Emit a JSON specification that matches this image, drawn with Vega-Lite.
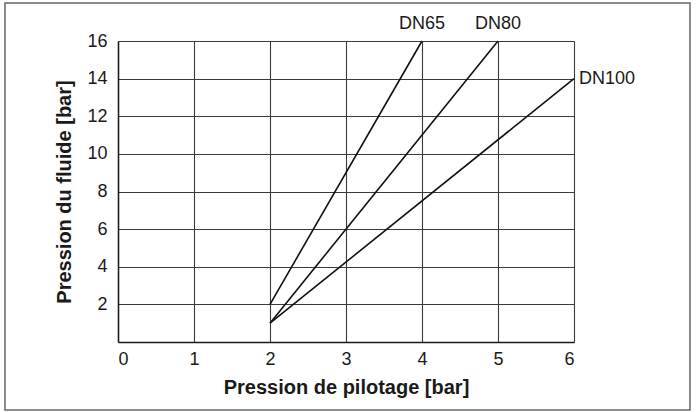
{
  "$schema": "https://vega.github.io/schema/vega-lite/v6.json",
  "width": 456,
  "height": 301,
  "autosize": {"type": "none"},
  "padding": {"left": 118, "top": 41, "right": 123, "bottom": 70},
  "background": "white",
  "config": {
    "font": "Liberation Sans",
    "view": {"stroke": null},
    "axis": {
      "labelFont": "Liberation Sans",
      "titleFont": "Liberation Sans",
      "labelFontSize": 18,
      "titleFontSize": 20,
      "titleFontWeight": "bold",
      "labelColor": "#1a1a1a",
      "titleColor": "#1a1a1a",
      "domainColor": "#1a1a1a",
      "domainWidth": 1.5,
      "gridColor": "#3a3a3a",
      "gridWidth": 1.1,
      "gridOpacity": 1,
      "ticks": false,
      "format": "d"
    }
  },
  "datasets": {
    "lines": [
      {"series": "DN65", "x": 2, "y": 2},
      {"series": "DN65", "x": 4, "y": 16},
      {"series": "DN80", "x": 2, "y": 1},
      {"series": "DN80", "x": 5, "y": 16},
      {"series": "DN100", "x": 2, "y": 1},
      {"series": "DN100", "x": 6, "y": 14}
    ],
    "labels": [
      {"series": "DN65", "x": 4, "y": 16},
      {"series": "DN80", "x": 5, "y": 16},
      {"series": "DN100", "x": 6, "y": 14}
    ],
    "frame": [
      {"x": -1.487, "x2": 7.526, "y": 18.02, "y2": -3.61}
    ]
  },
  "layer": [
    {
      "data": {"name": "frame"},
      "mark": {"type": "rect", "fill": null, "stroke": "#666", "strokeWidth": 1.5, "clip": false},
      "encoding": {
        "x": {"field": "x", "type": "quantitative", "scale": {"domain": [0, 6]}},
        "x2": {"field": "x2"},
        "y": {"field": "y", "type": "quantitative", "scale": {"domain": [0, 16]}},
        "y2": {"field": "y2"}
      }
    },
    {
      "data": {"name": "lines"},
      "mark": {"type": "line", "color": "#111", "strokeWidth": 1.6},
      "encoding": {
        "x": {
          "field": "x", "type": "quantitative",
          "scale": {"domain": [0, 6], "nice": false, "zero": false},
          "axis": {"values": [0, 1, 2, 3, 4, 5, 6], "title": "Pression de pilotage [bar]", "labelPadding": 8, "titlePadding": 9, "grid": true}
        },
        "y": {
          "field": "y", "type": "quantitative",
          "scale": {"domain": [0, 16], "nice": false, "zero": false},
          "axis": {"values": [2, 4, 6, 8, 10, 12, 14, 16], "title": "Pression du fluide [bar]", "labelPadding": 11, "titlePadding": 12, "grid": true}
        },
        "detail": {"field": "series", "type": "nominal"}
      }
    },
    {
      "data": {"name": "labels"},
      "transform": [{"filter": "datum.series !== 'DN100'"}],
      "mark": {"type": "text", "align": "center", "baseline": "middle", "dy": -17, "dx": 0, "fontSize": 18, "color": "#1a1a1a"},
      "encoding": {
        "x": {"field": "x", "type": "quantitative"},
        "y": {"field": "y", "type": "quantitative"},
        "text": {"field": "series"}
      }
    },
    {
      "data": {"name": "labels"},
      "transform": [{"filter": "datum.series === 'DN100'"}],
      "mark": {"type": "text", "align": "left", "baseline": "middle", "dx": 5, "dy": 0, "fontSize": 18, "color": "#1a1a1a"},
      "encoding": {
        "x": {"field": "x", "type": "quantitative"},
        "y": {"field": "y", "type": "quantitative"},
        "text": {"field": "series"}
      }
    }
  ]
}
